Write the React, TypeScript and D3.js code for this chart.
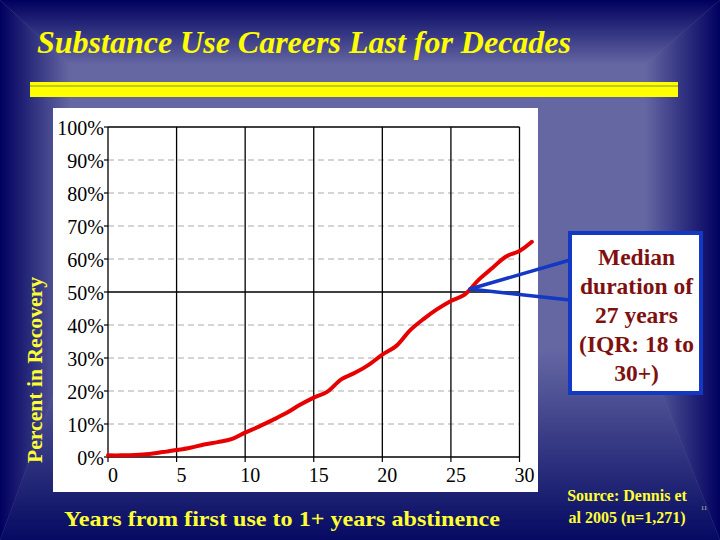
import React from "react";
import * as d3 from "d3";

const years = [0, 1, 2, 3, 4, 5, 6, 7, 8, 9, 10, 11, 12, 13, 14, 15, 16, 17, 18, 19, 20, 21, 22, 23, 24, 25, 26, 27, 28, 29, 30, 30.9];
const recovery = [0.5, 0.5, 0.6, 0.9, 1.5, 2.1, 2.8, 3.8, 4.5, 5.4, 7.4, 9.2, 11.2, 13.3, 15.8, 18.0, 19.8, 23.5, 25.5, 27.9, 31.0, 33.6, 38.3, 41.8, 44.8, 47.3, 49.2, 53.6, 57.2, 60.7, 62.4, 65.2];
const xTicks = [0, 5, 10, 15, 20, 25, 30];
const yTicks = [0, 10, 20, 30, 40, 50, 60, 70, 80, 90, 100];
const titleText = "Substance Use Careers Last for Decades";
const yAxisTitle = "Percent in Recovery";
const xAxisTitle = "Years from first use to 1+ years abstinence";
const calloutLines = ["Median", "duration of", "27 years", "(IQR: 18 to", "30+)"];
const sourceLines = ["Source: Dennis et", "al 2005 (n=1,271)"];
const slideNumber = "11";

const W = 720;
const H = 540;
const plot = { left: 108, right: 519.5, top: 127, bottom: 457 };

export default function App() {
  const x = d3.scaleLinear().domain([0, 30]).range([plot.left, plot.right]);
  const y = d3.scaleLinear().domain([0, 100]).range([plot.bottom, plot.top]);
  const line = d3
    .line<number>()
    .x((_, i) => x(years[i]))
    .y((d) => y(d))
    .curve(d3.curveCatmullRom.alpha(0.5));

  const inner = { l: 70, t: 65, r: 645, b: 350 };
  const light = "#6567a3";
  const dark = "#00005f";
  const serif = "'Liberation Serif', 'Times New Roman', serif";

  const tip = { x: 470, y: 289 };
  const box = { x: 570, y: 233, w: 131, h: 160 };

  return (
    <svg
      width={W}
      height={H}
      style={{ position: "absolute", left: 0, top: 0, display: "block" }}
      fontFamily={serif}
    >
      <defs>
        <linearGradient id="gTop" gradientUnits="userSpaceOnUse" x1={0} y1={inner.t} x2={0} y2={0}>
          <stop offset="0" stopColor={light} />
          <stop offset="1" stopColor={dark} />
        </linearGradient>
        <linearGradient id="gBottom" gradientUnits="userSpaceOnUse" x1={0} y1={inner.b} x2={0} y2={H}>
          <stop offset="0" stopColor={light} />
          <stop offset="1" stopColor="#060a62" />
        </linearGradient>
        <linearGradient id="gLeft" gradientUnits="userSpaceOnUse" x1={inner.l} y1={0} x2={0} y2={0}>
          <stop offset="0" stopColor={light} />
          <stop offset="1" stopColor={dark} />
        </linearGradient>
        <linearGradient id="gRight" gradientUnits="userSpaceOnUse" x1={inner.r} y1={0} x2={W} y2={0}>
          <stop offset="0" stopColor={light} />
          <stop offset="1" stopColor={dark} />
        </linearGradient>
      </defs>

      {/* background */}
      <rect x={0} y={0} width={W} height={H} fill={light} />
      <polygon points={`0,0 ${W},0 ${inner.r},${inner.t} ${inner.l},${inner.t}`} fill="url(#gTop)" />
      <polygon points={`0,${H} ${W},${H} ${inner.r},${inner.b} ${inner.l},${inner.b}`} fill="url(#gBottom)" />
      <polygon points={`0,0 ${inner.l},${inner.t} ${inner.l},${inner.b} 0,${H}`} fill="url(#gLeft)" />
      <polygon points={`${W},0 ${inner.r},${inner.t} ${inner.r},${inner.b} ${W},${H}`} fill="url(#gRight)" />

      {/* title */}
      <text
        x={37}
        y={53}
        fontSize={31}
        fontWeight="bold"
        fontStyle="italic"
        fontFamily="'Liberation Serif', serif"
        fill="#ffff00"
        textLength={534}
        lengthAdjust="spacingAndGlyphs"
      >
        {titleText}
      </text>

      {/* yellow rule */}
      <rect x={30} y={82} width={648} height={15} fill="#ffff00" />
      <line x1={30} x2={678} y1={86} y2={86} stroke="#8c8c3a" strokeWidth={1} />

      {/* chart panel */}
      <rect x={53} y={108} width={485} height={384} fill="#ffffff" />

      {/* dashed gridlines */}
      {yTicks
        .filter((t) => t !== 0 && t !== 50 && t !== 100)
        .map((t) => (
          <line
            key={"g" + t}
            x1={plot.left}
            x2={plot.right}
            y1={y(t)}
            y2={y(t)}
            stroke="#aaaaaa"
            strokeWidth={1}
            strokeDasharray="6,4"
          />
        ))}
      {/* solid lines */}
      {[50, 100, 0].map((t) => (
        <line key={"s" + t} x1={plot.left} x2={plot.right} y1={y(t)} y2={y(t)} stroke="#000" strokeWidth={1.3} />
      ))}
      {xTicks.map((t) => (
        <line key={"v" + t} x1={x(t)} x2={x(t)} y1={plot.top} y2={plot.bottom} stroke="#000" strokeWidth={1.3} />
      ))}
      {/* ticks */}
      {yTicks.map((t) => (
        <line key={"yt" + t} x1={plot.left - 4} x2={plot.left} y1={y(t)} y2={y(t)} stroke="#000" strokeWidth={1.2} />
      ))}
      {xTicks.map((t) => (
        <line key={"xt" + t} x1={x(t)} x2={x(t)} y1={plot.bottom} y2={plot.bottom + 5} stroke="#000" strokeWidth={1.2} />
      ))}

      {/* tick labels */}
      {yTicks.map((t) => (
        <text key={"yl" + t} x={plot.left - 4} y={y(t) + 1} dy="0.35em" fontSize={20} textAnchor="end" fill="#000">
          {t + "%"}
        </text>
      ))}
      {xTicks.map((t) => (
        <text key={"xl" + t} x={x(t) + 5} y={482} fontSize={20} textAnchor="middle" fill="#000">
          {t}
        </text>
      ))}

      {/* curve */}
      <path d={line(recovery) || ""} fill="none" stroke="#e60000" strokeWidth={4} strokeLinejoin="round" strokeLinecap="round" />

      {/* axis titles */}
      <text
        transform={`translate(42,370) rotate(-90)`}
        fontSize={20}
        fontWeight="bold"
        textAnchor="middle"
        fill="#ffff33"
        textLength={186}
        lengthAdjust="spacingAndGlyphs"
      >
        {yAxisTitle}
      </text>
      <text
        x={282}
        y={526}
        fontSize={21}
        fontWeight="bold"
        textAnchor="middle"
        fill="#ffff33"
        textLength={436}
        lengthAdjust="spacingAndGlyphs"
      >
        {xAxisTitle}
      </text>

      {/* callout */}
      <rect x={box.x} y={box.y} width={box.w} height={box.h} fill="#ffffff" stroke="#1238c4" strokeWidth={4} />
      <line x1={tip.x} y1={tip.y} x2={box.x} y2={260} stroke="#1238c4" strokeWidth={3.5} strokeLinecap="round" />
      <line x1={tip.x} y1={tip.y} x2={box.x} y2={300} stroke="#1238c4" strokeWidth={3.5} strokeLinecap="round" />
      {calloutLines.map((s, i) => (
        <text
          key={"c" + i}
          x={box.x + box.w / 2 + 1}
          y={265 + i * 29}
          fontSize={23.5}
          fontWeight="bold"
          textAnchor="middle"
          fill="#7f1010"
        >
          {s}
        </text>
      ))}

      {/* source */}
      {sourceLines.map((s, i) => (
        <text key={"src" + i} x={627} y={501 + i * 22} fontSize={16} fontWeight="bold" textAnchor="middle" fill="#ffff33">
          {s}
        </text>
      ))}
      <text x={704} y={510} fontSize={7} textAnchor="middle" fill="#c8c8a0">
        {slideNumber}
      </text>
    </svg>
  );
}
